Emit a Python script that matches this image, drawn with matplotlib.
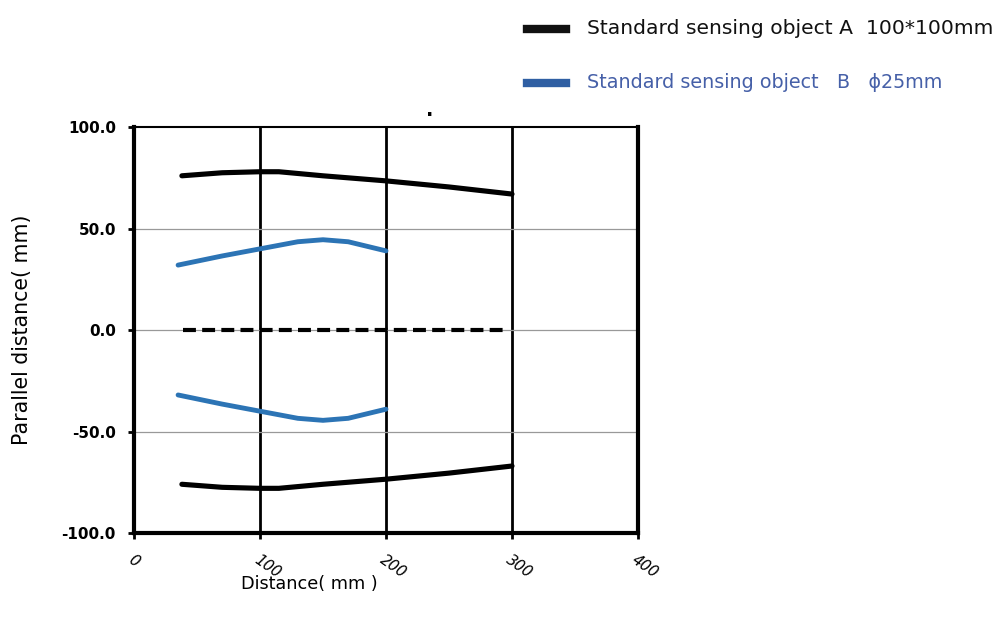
import matplotlib.pyplot as plt

# values
dist_a = [38, 70, 100, 115, 150, 200, 250, 300]
par_a = [76, 77.5, 78, 78, 76, 73.5, 70.5, 67]
dist_b = [35, 70, 100, 130, 150, 170, 200]
par_b = [32, 36.5, 40, 43.5, 44.5, 43.5, 39]
center_x = [39, 294]
center_y = [0, 0]

x_ticks = [0, 100, 200, 300, 400]
y_ticks = [-100, -50, 0, 50, 100]

BLACK = '#000000'
BLUE = '#2c74b5'

fig = plt.figure(figsize=(10.06, 6.23), dpi=100)
ax = fig.add_axes([0.1332, 0.1445, 0.5010, 0.6515])

# grid: black verticals, grey horizontals
for xv in x_ticks[1:-1]:
    ax.axvline(xv, color='black', lw=2, zorder=1)
for yv in [-50, 0, 50]:
    ax.axhline(yv, color='#999999', lw=0.9, zorder=1)

ax.plot(dist_a, par_a, color=BLACK, lw=3.7, solid_capstyle='round', zorder=3)
ax.plot(dist_a, [-v for v in par_a], color=BLACK, lw=3.7, solid_capstyle='round', zorder=3)
ax.plot(dist_b, par_b, color=BLUE, lw=3.5, solid_capstyle='round', zorder=3)
ax.plot(dist_b, [-v for v in par_b], color=BLUE, lw=3.5, solid_capstyle='round', zorder=3)
ax.plot(center_x, center_y, color=BLACK, lw=3, ls=(0, (3.1, 1.5)), zorder=3)

ax.set_xlim(0, 400)
ax.set_ylim(-100, 100)
ax.set_xticks(x_ticks)
ax.set_yticks(y_ticks)
ax.set_xticklabels([str(v) for v in x_ticks], rotation=-35, ha='left', va='top',
                   fontsize=10.8, style='italic', rotation_mode='anchor')
ax.set_yticklabels(['%.1f' % v for v in y_ticks], fontsize=11, fontweight='bold')
ax.tick_params(axis='both', direction='out', length=4, width=2, color='black')
ax.tick_params(axis='x', pad=10)
ax.tick_params(axis='y', pad=9)
for sp in ax.spines.values():
    sp.set_linewidth(3)
    sp.set_color('black')
ax.spines['top'].set_linewidth(1.5)

ax.set_ylabel('Parallel distance( mm)', fontsize=14.8)
ax.yaxis.set_label_coords((32 - 134) / 504, 0.5)
fig.text(309 / 1006, 1 - 584 / 623, 'Distance( mm )', fontsize=12.7, ha='center', va='center')

# legend drawn by hand in figure coordinates
fig.lines.append(plt.Line2D([527 / 1006, 566 / 1006], [1 - 29 / 623, 1 - 29 / 623],
                            color='#111111', lw=6, transform=fig.transFigure))
fig.text(587 / 1006, 1 - 29 / 623, 'Standard sensing object A  100*100mm',
         fontsize=14.6, ha='left', va='center', color='#111111')
fig.lines.append(plt.Line2D([527 / 1006, 566 / 1006], [1 - 83 / 623, 1 - 83 / 623],
                            color='#2f5fa3', lw=6, transform=fig.transFigure))
fig.text(587 / 1006, 1 - 83 / 623, 'Standard sensing object   B   \u03d525mm',
         fontsize=13.8, ha='left', va='center', color='#4660a8')
fig.text(430 / 1006, 1 - 110 / 623, '.', fontsize=14, fontweight='bold', ha='center', va='center')

fig.savefig('out.png', dpi=100, facecolor='white')
